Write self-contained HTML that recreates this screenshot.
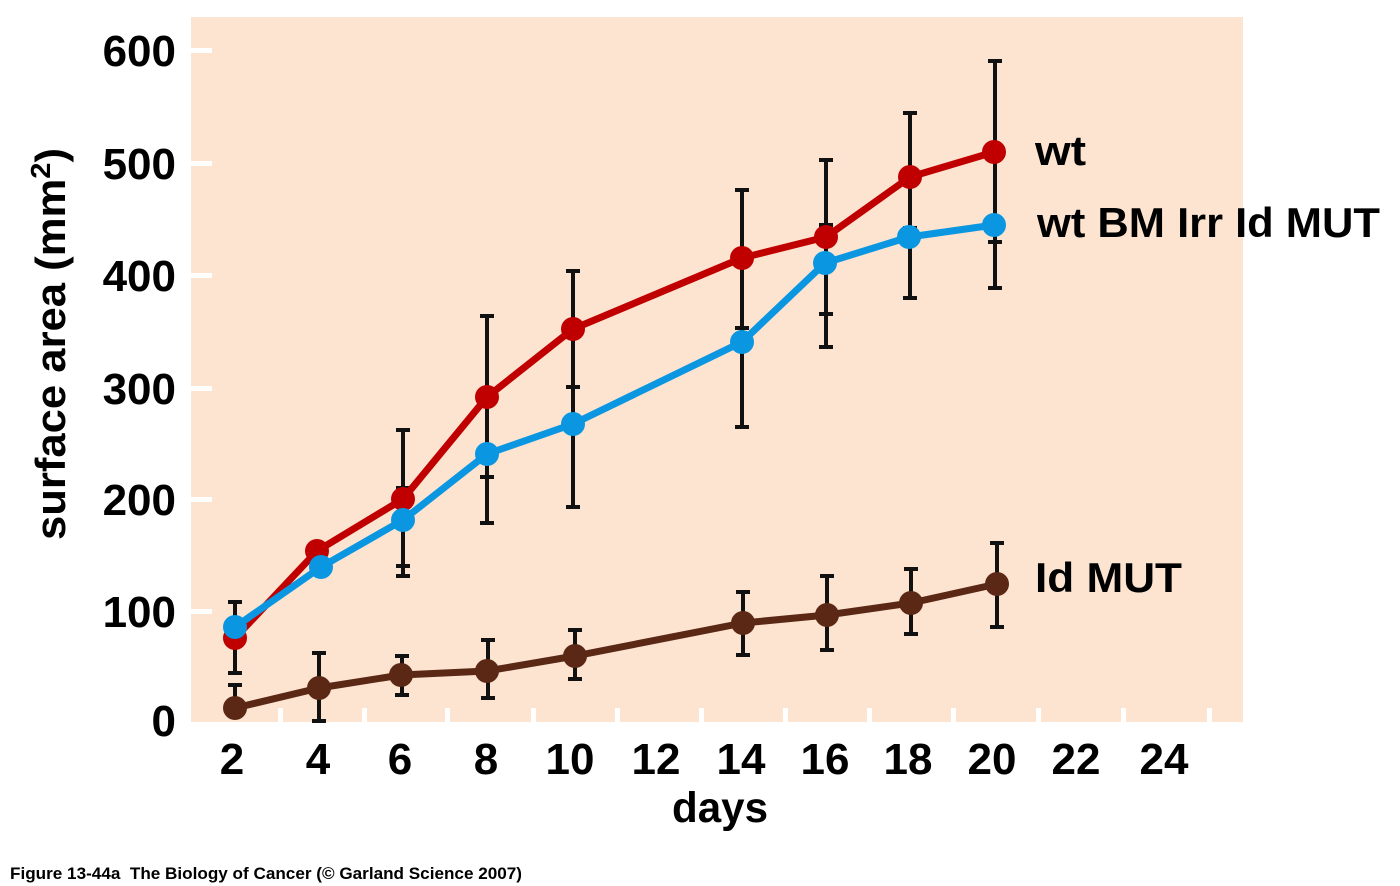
<!DOCTYPE html>
<html>
<head>
<meta charset="utf-8">
<style>
  html, body { margin:0; padding:0; background:#ffffff; }
  svg { display:block; }
  text { font-family: "Liberation Sans", "DejaVu Sans", sans-serif; font-weight:bold; fill:#000; }
</style>
</head>
<body>
<svg width="1400" height="886" viewBox="0 0 1400 886" xmlns="http://www.w3.org/2000/svg">
  <!-- plot background -->
  <rect x="191" y="17" width="1052" height="705" fill="#FCE4D1"/>

  <!-- y ticks (white) -->
  <g fill="#ffffff">
    <rect x="191" y="48" width="21" height="5"/>
    <rect x="191" y="161" width="21" height="5"/>
    <rect x="191" y="273" width="21" height="5"/>
    <rect x="191" y="386" width="21" height="5"/>
    <rect x="191" y="497" width="21" height="5"/>
    <rect x="191" y="609" width="21" height="5"/>
  </g>
  <!-- x ticks (white) -->
  <g fill="#ffffff">
    <rect x="278" y="708" width="5" height="14"/>
    <rect x="362" y="708" width="5" height="14"/>
    <rect x="445" y="708" width="5" height="14"/>
    <rect x="531" y="708" width="5" height="14"/>
    <rect x="615" y="708" width="5" height="14"/>
    <rect x="699" y="708" width="5" height="14"/>
    <rect x="783" y="708" width="5" height="14"/>
    <rect x="867" y="708" width="5" height="14"/>
    <rect x="951" y="708" width="5" height="14"/>
    <rect x="1036" y="708" width="5" height="14"/>
    <rect x="1121" y="708" width="5" height="14"/>
    <rect x="1207" y="708" width="5" height="14"/>
  </g>

  <!-- error bars -->
  <g stroke="#111" stroke-width="4" fill="none">
    <!-- day 2 -->
    <line x1="235" y1="602" x2="235" y2="673"/>
    <line x1="228" y1="602" x2="242" y2="602"/>
    <line x1="228" y1="673" x2="242" y2="673"/>
    <line x1="235" y1="685" x2="235" y2="708"/>
    <line x1="228" y1="685" x2="242" y2="685"/>
    <!-- day 4 -->
    <line x1="319" y1="653" x2="319" y2="721"/>
    <line x1="312" y1="653" x2="326" y2="653"/>
    <line x1="312" y1="721" x2="326" y2="721"/>
    <!-- day 6 -->
    <line x1="403" y1="430" x2="403" y2="576"/>
    <line x1="396" y1="430" x2="410" y2="430"/>
    <line x1="396" y1="488" x2="410" y2="488"/>
    <line x1="396" y1="566" x2="410" y2="566"/>
    <line x1="396" y1="576" x2="410" y2="576"/>
    <line x1="402" y1="656" x2="402" y2="695"/>
    <line x1="395" y1="656" x2="409" y2="656"/>
    <line x1="395" y1="695" x2="409" y2="695"/>
    <!-- day 8 -->
    <line x1="487" y1="316" x2="487" y2="523"/>
    <line x1="480" y1="316" x2="494" y2="316"/>
    <line x1="480" y1="477" x2="494" y2="477"/>
    <line x1="480" y1="523" x2="494" y2="523"/>
    <line x1="488" y1="640" x2="488" y2="698"/>
    <line x1="481" y1="640" x2="495" y2="640"/>
    <line x1="481" y1="698" x2="495" y2="698"/>
    <!-- day 10 -->
    <line x1="573" y1="271" x2="573" y2="507"/>
    <line x1="566" y1="271" x2="580" y2="271"/>
    <line x1="566" y1="387" x2="580" y2="387"/>
    <line x1="566" y1="507" x2="580" y2="507"/>
    <line x1="575" y1="630" x2="575" y2="679"/>
    <line x1="568" y1="630" x2="582" y2="630"/>
    <line x1="568" y1="679" x2="582" y2="679"/>
    <!-- day 14 -->
    <line x1="742" y1="190" x2="742" y2="427"/>
    <line x1="735" y1="190" x2="749" y2="190"/>
    <line x1="735" y1="328" x2="749" y2="328"/>
    <line x1="735" y1="427" x2="749" y2="427"/>
    <line x1="743" y1="592" x2="743" y2="655"/>
    <line x1="736" y1="592" x2="750" y2="592"/>
    <line x1="736" y1="655" x2="750" y2="655"/>
    <!-- day 16 -->
    <line x1="826" y1="160" x2="826" y2="347"/>
    <line x1="819" y1="160" x2="833" y2="160"/>
    <line x1="819" y1="225" x2="833" y2="225"/>
    <line x1="819" y1="314" x2="833" y2="314"/>
    <line x1="819" y1="347" x2="833" y2="347"/>
    <line x1="827" y1="576" x2="827" y2="650"/>
    <line x1="820" y1="576" x2="834" y2="576"/>
    <line x1="820" y1="650" x2="834" y2="650"/>
    <!-- day 18 -->
    <line x1="910" y1="113" x2="910" y2="298"/>
    <line x1="903" y1="113" x2="917" y2="113"/>
    <line x1="903" y1="228" x2="917" y2="228"/>
    <line x1="903" y1="298" x2="917" y2="298"/>
    <line x1="911" y1="569" x2="911" y2="634"/>
    <line x1="904" y1="569" x2="918" y2="569"/>
    <line x1="904" y1="634" x2="918" y2="634"/>
    <!-- day 20 -->
    <line x1="995" y1="61" x2="995" y2="288"/>
    <line x1="988" y1="61" x2="1002" y2="61"/>
    <line x1="988" y1="242" x2="1002" y2="242"/>
    <line x1="988" y1="288" x2="1002" y2="288"/>
    <line x1="997" y1="543" x2="997" y2="627"/>
    <line x1="990" y1="543" x2="1004" y2="543"/>
    <line x1="990" y1="627" x2="1004" y2="627"/>
  </g>

  <!-- brown series: Id MUT -->
  <polyline fill="none" stroke="#5A2814" stroke-width="7" stroke-linejoin="round"
    points="235,708 319,688 401,675 487,671 575,656 743,623 827,615 911,603 997,584"/>
  <g fill="#5A2814">
    <circle cx="235" cy="708" r="12"/>
    <circle cx="319" cy="688" r="12"/>
    <circle cx="401" cy="675" r="12"/>
    <circle cx="487" cy="671" r="12"/>
    <circle cx="575" cy="656" r="12"/>
    <circle cx="743" cy="623" r="12"/>
    <circle cx="827" cy="615" r="12"/>
    <circle cx="911" cy="603" r="12"/>
    <circle cx="997" cy="584" r="12"/>
  </g>

  <!-- red series: wt -->
  <polyline fill="none" stroke="#C00000" stroke-width="7" stroke-linejoin="round"
    points="235,638 317,551 403,499 487,397 573,329 742,258 826,237 910,177 994,152"/>
  <g fill="#C00000">
    <circle cx="235" cy="638" r="12"/>
    <circle cx="317" cy="551" r="12"/>
    <circle cx="403" cy="499" r="12"/>
    <circle cx="487" cy="397" r="12"/>
    <circle cx="573" cy="329" r="12"/>
    <circle cx="742" cy="258" r="12"/>
    <circle cx="826" cy="237" r="12"/>
    <circle cx="910" cy="177" r="12"/>
    <circle cx="994" cy="152" r="12"/>
  </g>

  <!-- blue series: wt BM Irr Id MUT -->
  <polyline fill="none" stroke="#0A96E0" stroke-width="7" stroke-linejoin="round"
    points="235,627 321,567 403,520 487,454 573,424 742,342 825,263 909,237 994,225"/>
  <g fill="#0A96E0">
    <circle cx="235" cy="627" r="12"/>
    <circle cx="321" cy="567" r="12"/>
    <circle cx="403" cy="520" r="12"/>
    <circle cx="487" cy="454" r="12"/>
    <circle cx="573" cy="424" r="12"/>
    <circle cx="742" cy="342" r="12"/>
    <circle cx="825" cy="263" r="12"/>
    <circle cx="909" cy="237" r="12"/>
    <circle cx="994" cy="225" r="12"/>
  </g>

  <!-- y tick labels -->
  <g font-size="44" text-anchor="end">
    <text x="176" y="66">600</text>
    <text x="176" y="179">500</text>
    <text x="176" y="291">400</text>
    <text x="176" y="404">300</text>
    <text x="176" y="515">200</text>
    <text x="176" y="627">100</text>
    <text x="176" y="736">0</text>
  </g>

  <!-- x tick labels -->
  <g font-size="44" text-anchor="middle">
    <text x="232" y="774">2</text>
    <text x="318" y="774">4</text>
    <text x="400" y="774">6</text>
    <text x="486" y="774">8</text>
    <text x="570" y="774">10</text>
    <text x="656" y="774">12</text>
    <text x="741" y="774">14</text>
    <text x="825" y="774">16</text>
    <text x="908" y="774">18</text>
    <text x="992" y="774">20</text>
    <text x="1076" y="774">22</text>
    <text x="1164" y="774">24</text>
  </g>

  <!-- axis titles -->
  <text x="720" y="822" font-size="43" text-anchor="middle" textLength="96" lengthAdjust="spacingAndGlyphs">days</text>
  <text transform="translate(65,344) rotate(-90)" font-size="42" text-anchor="middle" textLength="392" lengthAdjust="spacingAndGlyphs">surface area (mm<tspan font-size="28" dy="-15">2</tspan><tspan dy="15">)</tspan></text>

  <!-- series labels -->
  <text x="1035" y="165" font-size="42" textLength="51" lengthAdjust="spacingAndGlyphs">wt</text>
  <text x="1037" y="237" font-size="42" textLength="343" lengthAdjust="spacingAndGlyphs">wt BM Irr Id MUT</text>
  <text x="1035" y="592" font-size="42" textLength="147" lengthAdjust="spacingAndGlyphs">Id MUT</text>

  <!-- footer -->
  <text x="10" y="879" font-size="17" textLength="512" lengthAdjust="spacingAndGlyphs" xml:space="preserve">Figure 13-44a  The Biology of Cancer (© Garland Science 2007)</text>
</svg>
</body>
</html>
